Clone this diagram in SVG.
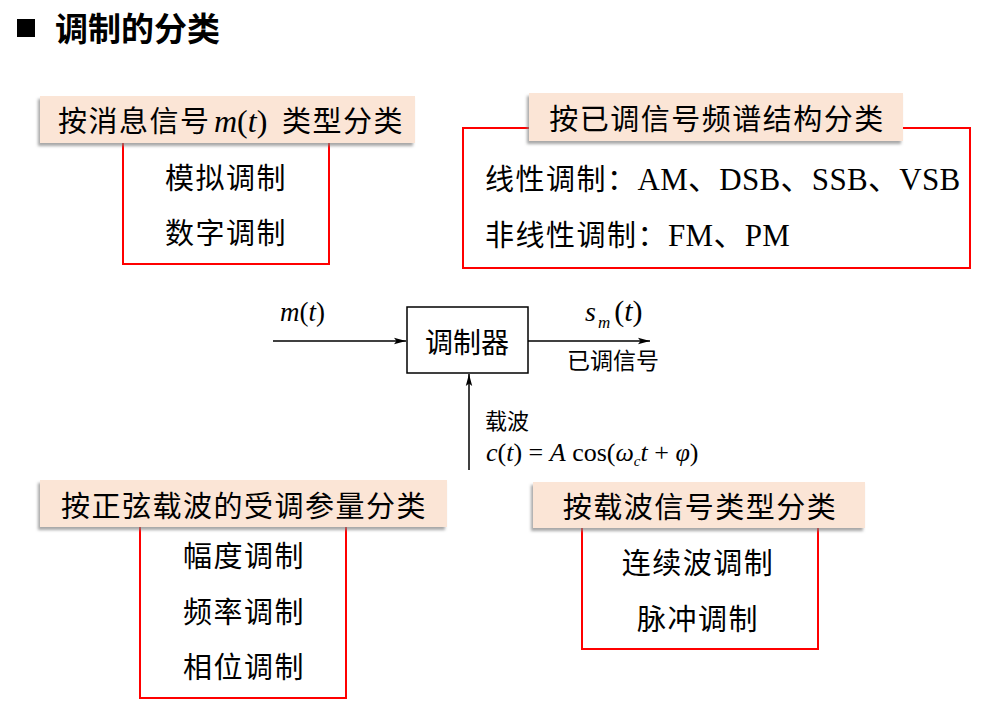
<svg xmlns="http://www.w3.org/2000/svg" width="982" height="713" viewBox="0 0 982 713">
<defs>
<filter id="sh" x="-10%" y="-30%" width="120%" height="170%">
<feDropShadow dx="-2" dy="3" stdDeviation="1.8" flood-color="#808080" flood-opacity="0.7"/>
</filter>
<marker id="arr" viewBox="0 0 12 8" refX="12" refY="4" markerWidth="12" markerHeight="8" markerUnits="userSpaceOnUse" orient="auto">
<path d="M0,0.8 L12,4 L0,7.2 L2.5,4 Z" fill="#000"/>
</marker>
<style>
.cjk{font-family:"Noto Sans CJK SC","Noto Sans",sans-serif;fill:#000}
.lab{font-size:29px;letter-spacing:1.5px}
.item{font-size:29px;letter-spacing:1.5px}
.ser{font-family:"Liberation Serif","Noto Sans CJK SC",serif}
.it{font-style:italic}
.redbox{fill:none;stroke:#FF0000;stroke-width:2}
.tag{fill:#FBE5D6;filter:url(#sh)}
.conn{stroke:#000;stroke-width:1.5;fill:none}
</style>
</defs>

<g id="title">
<rect x="17" y="19" width="18" height="18" fill="#000"/>
<text class="cjk" x="55" y="41" font-size="33" font-weight="bold">调制的分类</text>
</g>

<g id="node-message-type">
<rect class="redbox" x="123" y="130" width="206" height="134"/>
<rect class="tag" x="40" y="96" width="375" height="47"/>
<text class="cjk lab" x="58" y="132">按消息信号<tspan class="ser it" x="214" font-size="32" letter-spacing="0">m</tspan><tspan class="ser" font-size="32" letter-spacing="0">(</tspan><tspan class="ser it" font-size="32" letter-spacing="0">t</tspan><tspan class="ser" font-size="32" letter-spacing="0">)</tspan><tspan x="282">类型分类</tspan></text>
<text class="cjk item" x="226" y="189" text-anchor="middle">模拟调制</text>
<text class="cjk item" x="226" y="244" text-anchor="middle">数字调制</text>
</g>

<g id="node-spectrum">
<rect class="redbox" x="463" y="128" width="507" height="140"/>
<rect class="tag" x="529" y="93" width="374" height="48"/>
<text class="cjk lab" x="717" y="130" text-anchor="middle">按已调信号频谱结构分类</text>
<text class="cjk item" x="485" y="190">线性调制：<tspan class="ser" font-size="31" letter-spacing="0.3">AM、DSB、SSB、VSB</tspan></text>
<text class="cjk item" x="485" y="246">非线性调制：<tspan class="ser" font-size="31" letter-spacing="0.3">FM、PM</tspan></text>
</g>

<g id="node-modulator">
<rect x="407" y="307" width="121" height="66" fill="#fff" stroke="#000" stroke-width="1.5"/>
<text class="cjk" x="467" y="353" font-size="28" text-anchor="middle">调制器</text>
</g>

<g id="connectors">
<line class="conn" x1="273" y1="341" x2="406" y2="341" marker-end="url(#arr)"/>
<line class="conn" x1="528" y1="341" x2="650" y2="341" marker-end="url(#arr)"/>
<line class="conn" x1="469" y1="470" x2="469" y2="374" marker-end="url(#arr)"/>
</g>

<g id="labels-signal">
<text class="ser" x="280" y="321" font-size="27"><tspan class="it">m</tspan>(<tspan class="it">t</tspan>)</text>
<text class="ser" x="585" y="321" font-size="28"><tspan class="it">s</tspan><tspan class="it" font-size="17" dy="7" dx="2">m</tspan><tspan dy="-7" dx="4" font-size="30">(</tspan><tspan class="it" font-size="30">t</tspan><tspan font-size="30">)</tspan></text>
<text class="cjk" x="567" y="369" font-size="23">已调信号</text>
<text class="cjk" x="485" y="429" font-size="22">载波</text>
<text class="ser" x="486" y="461" font-size="26"><tspan class="it">c</tspan>(<tspan class="it">t</tspan>) = <tspan class="it">A</tspan> cos(<tspan class="it">ω</tspan><tspan class="it" font-size="15" dy="5">c</tspan><tspan class="it" dy="-5">t</tspan> + <tspan class="it">φ</tspan>)</text>
</g>

<g id="node-param">
<rect class="redbox" x="140" y="515" width="206" height="183"/>
<rect class="tag" x="40" y="480" width="407" height="47"/>
<text class="cjk lab" x="244" y="517" text-anchor="middle">按正弦载波的受调参量分类</text>
<text class="cjk item" x="244" y="567" text-anchor="middle">幅度调制</text>
<text class="cjk item" x="244" y="623" text-anchor="middle">频率调制</text>
<text class="cjk item" x="244" y="678" text-anchor="middle">相位调制</text>
</g>

<g id="node-carrier-type">
<rect class="redbox" x="582" y="515" width="236" height="134"/>
<rect class="tag" x="533" y="482" width="332" height="46"/>
<text class="cjk lab" x="700" y="518" text-anchor="middle">按载波信号类型分类</text>
<text class="cjk item" x="698" y="574" text-anchor="middle">连续波调制</text>
<text class="cjk item" x="698" y="630" text-anchor="middle">脉冲调制</text>
</g>
</svg>
